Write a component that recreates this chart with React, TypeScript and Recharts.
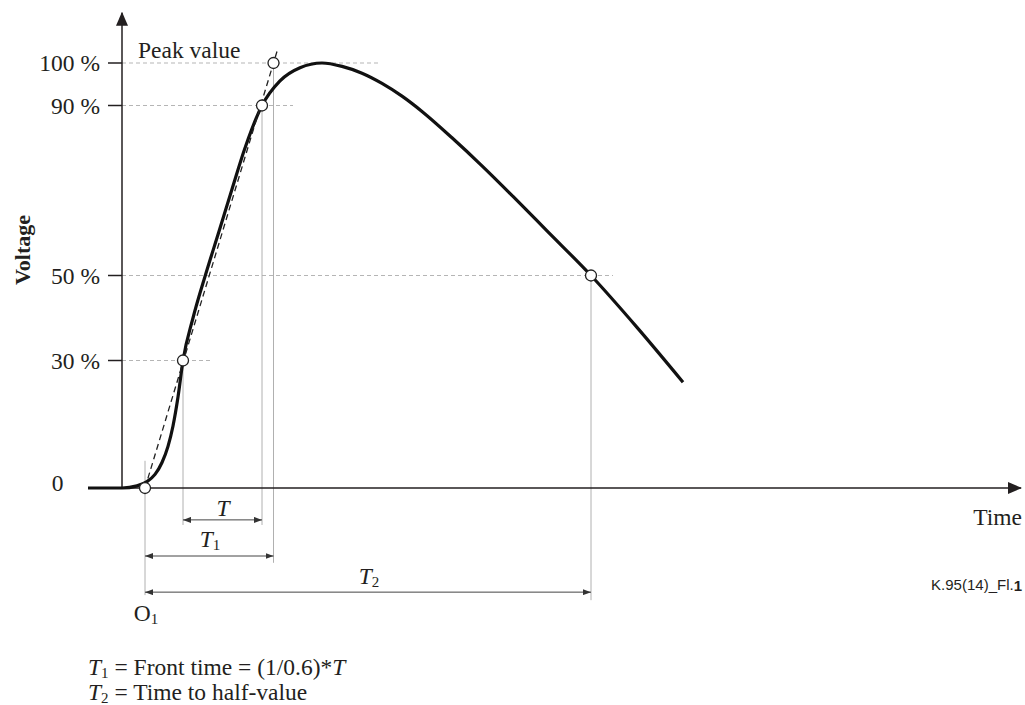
import React from 'react';
import { ComposedChart, XAxis, YAxis, Line, Scatter, ReferenceLine, ReferenceDot, Label } from 'recharts';

// impulse voltage waveform (time in arbitrary units, voltage in % of peak)
const curveTime = [-3.4, -0.7, 0, 1.5, 2.5, 3.3, 4.0, 4.6, 5.1, 5.6, 6.1, 7.1, 8.33, 9.65, 10.96, 12.3, 14.0, 15.8, 17.8, 20.0, 22.0, 24.0, 26.0, 28.0, 30.0, 33.0, 36.0, 39.1, 42.5, 46.9, 51.5, 56.1];
const curveVoltage = [0, 0, 0, 0.5, 1.5, 3.2, 6.0, 9.8, 14.6, 21.4, 30, 40, 50, 60, 70, 80, 90, 95.8, 98.9, 100, 99.2, 97.6, 95.2, 92.2, 88.6, 82.4, 75.8, 68.6, 60.5, 50, 37.8, 24.9];

// marked points: O1, 30 %, 90 %, 100 % (on the tangent), 50 %
const markTime = [2.3, 6.1, 14.0, 15.15, 46.9];
const markVoltage = [0, 30, 90, 100, 50];

// dashed front line through 30 % and 90 %
const tangentTime = [2.3, 15.6];
const tangentVoltage = [0, 103.5];

const levels = [100, 90, 50, 30];
const levelLabels = ['100 %', '90 %', '50 %', '30 %'];
const levelGuideEnd = [25.6, 17.1, 49.1, 8.9];

// light drop lines from each mark down to the dimension arrows
const dropTime = [2.3, 6.1, 14.0, 15.15, 46.9];
const dropTop = [6.4, 30, 90, 100, 50];
const dropBottom = [-25.2, -8.7, -8.7, -17.6, -26.4];

const spanNames = ['T', 'T1', 'T2'];
const spanFrom = [6.1, 2.3, 2.3];
const spanTo = [14.0, 15.15, 46.9];
const spanLevel = [-7.5, -16, -24.5];

const curve = curveTime.map((t, i) => ({ t, v: curveVoltage[i] }));
const marks = markTime.map((t, i) => ({ t, v: markVoltage[i] }));

const SERIF = '"Liberation Serif", "Times New Roman", serif';
const INK = '#231f20';
const FS = 23.5;

const note = (key: string, t: number, v: number, render: (cx: number, cy: number) => React.ReactElement) => (
    <ReferenceDot key={key} x={t} y={v} r={0} ifOverflow="visible" shape={(p: any) => render(p.cx, p.cy)} />
);

const subText = (main: string, sub: string, italic: boolean, anchor: string) => (cx: number, cy: number) => (
    <text x={cx} y={cy} textAnchor={anchor} dominantBaseline="central" fontFamily={SERIF} fontSize={FS} fill={INK}>
        <tspan fontStyle={italic ? 'italic' : 'normal'}>{main}</tspan>
        <tspan fontSize={15} dy={6}>{sub}</tspan>
    </text>
);

const App = () => {
    return (
        <div style={{ position: 'absolute', left: 0, top: 0, background: '#fff' }}>
            <ComposedChart width={1025} height={705} margin={{ top: 12, right: 3, bottom: 4.5, left: 2 }}>
                <defs>
                    <marker id="axis-arrow" markerUnits="userSpaceOnUse" markerWidth={14} markerHeight={12} refX={13} refY={6} orient="auto">
                        <path d="M0,0 L14,6 L0,12 Z" fill={INK} />
                    </marker>
                    <marker id="dim-arrow" markerUnits="userSpaceOnUse" markerWidth={8} markerHeight={6} refX={8} refY={3} orient="auto-start-reverse">
                        <path d="M0,0 L8,3 L0,6 Z" fill="#333" />
                    </marker>
                </defs>
                <XAxis type="number" dataKey="t" domain={[-12, 90]} hide allowDataOverflow />
                <YAxis type="number" dataKey="v" domain={[-50, 112]} hide allowDataOverflow />

                {/* dashed level guides */}
                {levels.map((v, i) => (
                    <ReferenceLine key={'g' + v} ifOverflow="visible" segment={[{ x: 0, y: v }, { x: levelGuideEnd[i], y: v }]}
                        stroke="#b5b5b5" strokeWidth={1} strokeDasharray="4 3" />
                ))}
                {/* drop lines */}
                {dropTime.map((t, i) => (
                    <ReferenceLine key={'d' + i} ifOverflow="visible" segment={[{ x: t, y: dropTop[i] }, { x: t, y: dropBottom[i] }]}
                        stroke="#b0b0b0" strokeWidth={1} />
                ))}

                {/* axes with arrow heads */}
                <ReferenceLine ifOverflow="visible" segment={[{ x: 0, y: 0 }, { x: 0, y: 111.8 }]} stroke={INK} strokeWidth={1.5} markerEnd="url(#axis-arrow)" />
                <ReferenceLine ifOverflow="visible" segment={[{ x: 0, y: 0 }, { x: 89.9, y: 0 }]} stroke={INK} strokeWidth={1.5} markerEnd="url(#axis-arrow)" />

                {/* y tick marks and labels */}
                {levels.map((v, i) => (
                    <ReferenceLine key={'t' + v} ifOverflow="visible" segment={[{ x: -1.4, y: v }, { x: 0, y: v }]} stroke={INK} strokeWidth={1.5}>
                        <Label value={levelLabels[i]} position="left" offset={8} fill={INK} fontSize={FS} fontFamily={SERIF} />
                    </ReferenceLine>
                ))}

                {/* dimension arrows */}
                {spanNames.map((n, i) => (
                    <ReferenceLine key={'s' + n} ifOverflow="visible" segment={[{ x: spanFrom[i], y: spanLevel[i] }, { x: spanTo[i], y: spanLevel[i] }]}
                        stroke="#444" strokeWidth={1} markerStart="url(#dim-arrow)" markerEnd="url(#dim-arrow)" />
                ))}

                <Line data={curve} dataKey="v" type="monotone" stroke="#111" strokeWidth={3.2} dot={false} activeDot={false} isAnimationActive={false} />
                <ReferenceLine ifOverflow="visible"
                    segment={[{ x: tangentTime[0], y: tangentVoltage[0] }, { x: tangentTime[1], y: tangentVoltage[1] }]}
                    stroke="#222" strokeWidth={1.3} strokeDasharray="6 4" />
                <Scatter data={marks} dataKey="v" isAnimationActive={false}
                    shape={(p: any) => <circle cx={p.cx} cy={p.cy} r={5.5} fill="#fff" stroke="#222" strokeWidth={1.3} />} />

                {/* texts */}
                {note('zero', -6.45, 1.2, (cx, cy) => (
                    <text x={cx} y={cy} textAnchor="middle" dominantBaseline="central" fontFamily={SERIF} fontSize={FS} fill={INK}>0</text>
                ))}
                {note('peak', 1.6, 103.1, (cx, cy) => (
                    <text x={cx} y={cy} dominantBaseline="central" fontFamily={SERIF} fontSize={FS} fill={INK}>Peak value</text>
                ))}
                {note('volt', -10, 56, (cx, cy) => (
                    <text x={cx} y={cy} transform={`rotate(-90 ${cx} ${cy})`} textAnchor="middle" dominantBaseline="central"
                        fontFamily={SERIF} fontSize={22} fontWeight="bold" fill={INK}>Voltage</text>
                ))}
                {note('time', 90, -6.8, (cx, cy) => (
                    <text x={cx} y={cy} textAnchor="end" dominantBaseline="central" fontFamily={SERIF} fontSize={FS} fill={INK}>Time</text>
                ))}
                {note('fig', 90, -22.8, (cx, cy) => (
                    <text x={cx} y={cy} textAnchor="end" dominantBaseline="central" fontFamily='"Liberation Sans", Arial, sans-serif' fontSize={15} fill={INK}>
                        K.95(14)_Fl.<tspan fontWeight="bold">1</tspan>
                    </text>
                ))}
                {note('lT', 10.1, -4.7, subText('T', '', true, 'middle'))}
                {note('lT1', 8.8, -12, subText('T', '1', true, 'middle'))}
                {note('lT2', 24.7, -20.7, subText('T', '2', true, 'middle'))}
                {note('lO1', 2.4, -29.4, subText('O', '1', false, 'middle'))}
                {note('f1', -3.4, -42.1, (cx, cy) => (
                    <text x={cx} y={cy} dominantBaseline="central" fontFamily={SERIF} fontSize={FS} fill={INK}>
                        <tspan fontStyle="italic">T</tspan>
                        <tspan fontSize={15} dy={6}>1</tspan>
                        <tspan dy={-6}> = Front time = (1/0.6)*</tspan>
                        <tspan fontStyle="italic">T</tspan>
                    </text>
                ))}
                {note('f2', -3.4, -48, (cx, cy) => (
                    <text x={cx} y={cy} dominantBaseline="central" fontFamily={SERIF} fontSize={FS} fill={INK}>
                        <tspan fontStyle="italic">T</tspan>
                        <tspan fontSize={15} dy={6}>2</tspan>
                        <tspan dy={-6}> = Time to half-value</tspan>
                    </text>
                ))}
            </ComposedChart>
        </div>
    );
};

export default App;
